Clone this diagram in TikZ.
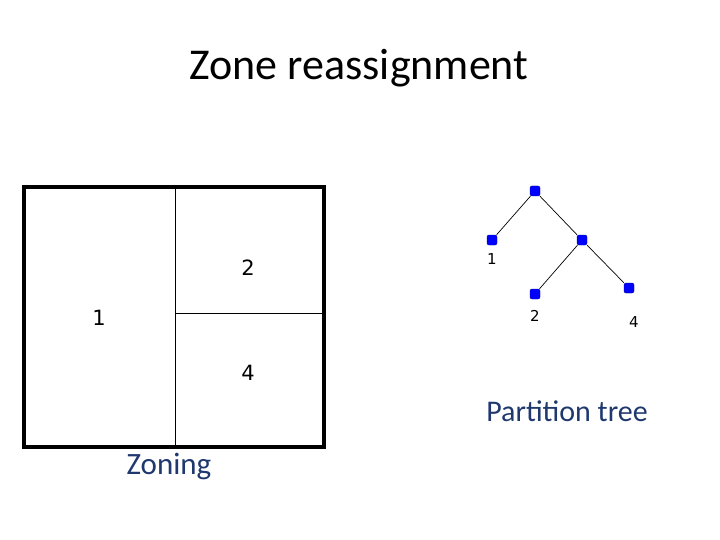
\documentclass[tikz,border=0pt]{standalone}
\usepackage{fontspec}
\setmainfont{Carlito}
\newfontfamily\vfont{DejaVu Sans}
\definecolor{navy}{RGB}{31,56,110}
\begin{document}
\begin{tikzpicture}[x=1pt,y=-1pt,
  tn/.style={rectangle,rounded corners=2pt,fill=blue,draw=blue!60!black,inner sep=0pt,minimum size=10pt},
  edge/.style={draw=black,line width=0.7pt},
  num/.style={font=\vfont\fontsize{21}{24}\selectfont},
  snum/.style={font=\vfont\fontsize{15}{18}\selectfont}]
\useasboundingbox (0,0) rectangle (720,540);
\node (title) at (359,68) {\fontsize{44}{48}\selectfont Zone reassignment};
\draw[line width=3.5pt] (24,187) rectangle (324,447);
\coordinate (vt) at (175,187); \coordinate (vb) at (175,447);
\coordinate (hl) at (175,313); \coordinate (hr) at (324,313);
\draw[line width=0.8pt] (vt) -- (vb);
\draw[line width=0.8pt] (hl) -- (hr);
\node[num] (z2) at (248,268) {2};
\node[num] (z1) at (99,318) {1};
\node[num] (z4) at (248,373) {4};
\node[text=navy] (zoning) at (169,466) {\fontsize{31}{34}\selectfont Zoning};
\node[tn] (r) at (535,191) {};
\node[tn] (a) at (492,240) {};
\node[tn] (b) at (582,240) {};
\node[tn] (c) at (535,294) {};
\node[tn] (d) at (629,288) {};
\draw[edge] (r) -- (a); \draw[edge] (r) -- (b);
\draw[edge] (b) -- (c); \draw[edge] (b) -- (d);
\node[snum] (l1) at (492,259) {1};
\node[snum] (l2) at (535,316) {2};
\node[snum] (l4) at (634,322) {4};
\node[text=navy] (pt) at (567,411) {\fontsize{30}{34}\selectfont Partition tree};
\end{tikzpicture}
\end{document}
